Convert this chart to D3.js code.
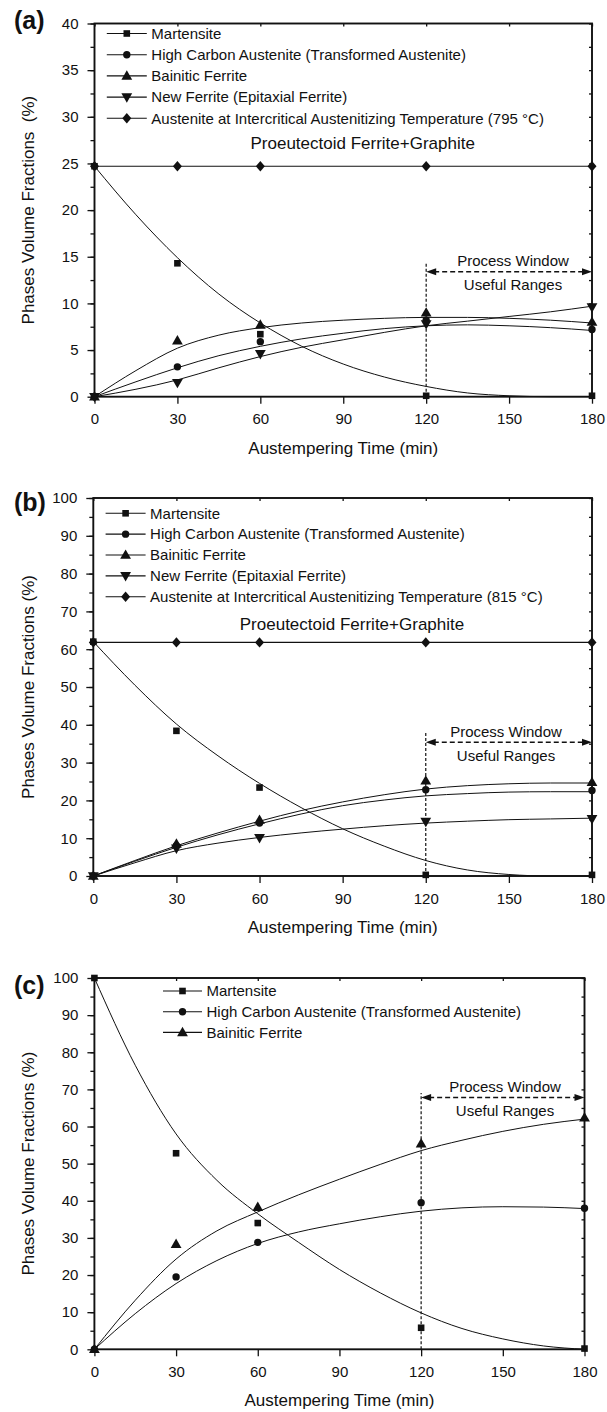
<!DOCTYPE html>
<html><head><meta charset="utf-8">
<script src="https://cdn.jsdelivr.net/npm/d3@7"></script>
<style>
body{margin:0;background:#fff}
svg text{font-family:"Liberation Sans",Arial,Helvetica,sans-serif;fill:#111}
</style>
</head><body>
<svg id="chart" width="607" height="1412"></svg>
<script>
// ---------- DATA ----------
const sampleTimes = [0, 30, 60, 120, 180];
const fitTimes = [0, 15, 30, 45, 60, 75, 90, 105, 120, 135, 150, 165, 180];
const xTicks = [0, 30, 60, 90, 120, 150, 180];

const legendA = ["Martensite", "High Carbon Austenite (Transformed Austenite)", "Bainitic Ferrite",
  "New Ferrite (Epitaxial Ferrite)", "Austenite at Intercritical Austenitizing Temperature (795 \u00B0C)"];
const legendB = ["Martensite", "High Carbon Austenite (Transformed Austenite)", "Bainitic Ferrite",
  "New Ferrite (Epitaxial Ferrite)", "Austenite at Intercritical Austenitizing Temperature (815 \u00B0C)"];
const legendC = ["Martensite", "High Carbon Austenite (Transformed Austenite)", "Bainitic Ferrite"];

// panel (a)
const aYTicks = [0, 5, 10, 15, 20, 25, 30, 35, 40];
const aMartensite = [24.7, 14.3, 6.7, 0.1, 0.1];
const aHighCarbon = [0, 3.2, 5.9, 8.2, 7.2];
const aBainitic = [0, 6.0, 7.7, 9.0, 8.0];
const aNewFerrite = [0, 1.5, 4.6, 7.8, 9.6];
const aAustenite = [24.7, 24.7, 24.7, 24.7, 24.7];
const aMartensiteFit = [24.7, 19.5, 14.9, 11.0, 7.9, 5.4, 3.5, 2.1, 1.1, 0.4, 0.1, 0, 0];
const aHighCarbonFit = [0, 1.6, 3.1, 4.4, 5.4, 6.2, 6.8, 7.3, 7.6, 7.7, 7.6, 7.4, 7.1];
const aBainiticFit = [0, 2.8, 5.2, 6.6, 7.4, 7.9, 8.2, 8.4, 8.5, 8.5, 8.4, 8.2, 7.9];
const aNewFerriteFit = [0, 0.8, 1.8, 3.1, 4.3, 5.3, 6.1, 6.9, 7.6, 8.1, 8.6, 9.1, 9.7];

// panel (b)
const bYTicks = [0, 10, 20, 30, 40, 50, 60, 70, 80, 90, 100];
const bMartensite = [62, 38.4, 23.4, 0.3, 0.3];
const bHighCarbon = [0, 8.0, 14.0, 22.8, 22.6];
const bBainitic = [0, 8.5, 14.8, 25.2, 24.8];
const bNewFerrite = [0, 7.3, 10.1, 14.4, 15.1];
const bAustenite = [61.8, 61.8, 61.8, 61.8, 61.8];
const bMartensiteFit = [62, 50.5, 40.2, 31.8, 24.5, 18.1, 12.5, 7.9, 4.1, 1.6, 0.4, 0, 0];
const bHighCarbonFit = [0, 3.9, 7.6, 10.9, 13.8, 16.4, 18.6, 20.1, 21.2, 21.8, 22.2, 22.3, 22.3];
const bBainiticFit = [0, 4.1, 8.0, 11.4, 14.5, 17.3, 19.6, 21.5, 23.0, 23.9, 24.4, 24.6, 24.6];
const bNewFerriteFit = [0, 3.5, 6.7, 8.7, 10.2, 11.4, 12.4, 13.3, 14.0, 14.5, 14.9, 15.1, 15.3];

// panel (c)
const cYTicks = [0, 10, 20, 30, 40, 50, 60, 70, 80, 90, 100];
const cMartensite = [100, 52.8, 34.0, 5.8, 0.2];
const cHighCarbon = [0, 19.5, 28.8, 39.5, 38.0];
const cBainitic = [0, 28.3, 38.3, 55.4, 62.4];
const cMartensiteFit = [100, 76.5, 58, 45.5, 36.5, 28.8, 21.5, 15.2, 9.8, 5.6, 2.8, 0.9, 0];
const cHighCarbonFit = [0, 9.6, 17.7, 23.9, 28.5, 31.6, 33.8, 35.7, 37.2, 38.1, 38.4, 38.3, 37.9];
const cBainiticFit = [0, 13.2, 24.3, 31.9, 37.0, 41.6, 45.8, 49.8, 53.5, 56.3, 58.7, 60.6, 62.0];

// ---------- DRAWING ----------
const svg = d3.select("#chart");

function markerPath(type) {
  switch (type) {
    case "square": return "M-3.3,-3.3H3.3V3.3H-3.3Z";
    case "circle": return d3.arc()({innerRadius: 0, outerRadius: 3.7, startAngle: 0, endAngle: 2 * Math.PI});
    case "up": return "M0,-5.6L5.4,3.8H-5.4Z";
    case "down": return "M0,5.6L5.4,-3.8H-5.4Z";
    case "diamond": return "M0,-5.2L4.5,0L0,5.2L-4.5,0Z";
  }
}

function drawPanel(cfg) {
  const g = svg.append("g");
  const x = d3.scaleLinear().domain([0, 180]).range([cfg.left, cfg.right]);
  const y = d3.scaleLinear().domain([0, cfg.yMax]).range([cfg.bottom, cfg.top]);
  const minor = d3.range(0, cfg.yMax + 0.001, cfg.minorStep);

  const styleAxis = sel => {
    sel.select(".domain").remove();
    sel.selectAll("line").attr("stroke", "#111").attr("stroke-width", 1.3);
    sel.selectAll("text").attr("font-size", 15).attr("font-family", null).attr("fill", "#111");
  };
  g.append("g").attr("transform", `translate(${cfg.left},0)`)
    .call(d3.axisLeft(y).tickValues(minor).tickSize(4).tickFormat("")).call(styleAxis);
  g.append("g").attr("transform", `translate(${cfg.left},0)`)
    .call(d3.axisLeft(y).tickValues(cfg.yTicks).tickSize(7).tickPadding(9).tickFormat(d3.format("d"))).call(styleAxis);
  g.append("g").attr("transform", `translate(0,${cfg.bottom})`)
    .call(d3.axisBottom(x).tickValues(xTicks).tickSize(7).tickPadding(10).tickFormat(d3.format("d"))).call(styleAxis);
  g.append("g").attr("transform", `translate(0,${cfg.top})`)
    .call(d3.axisTop(x).tickValues(xTicks).tickSize(-3).tickFormat("")).call(styleAxis);
  g.append("g").attr("transform", `translate(${cfg.right},0)`)
    .call(d3.axisRight(y).tickValues(minor).tickSize(-3).tickFormat("")).call(styleAxis);

  g.append("rect").attr("x", cfg.left).attr("y", cfg.top)
    .attr("width", cfg.right - cfg.left).attr("height", cfg.bottom - cfg.top)
    .attr("fill", "none").attr("stroke", "#111").attr("stroke-width", 1.9);

  g.append("text").attr("x", (cfg.left + cfg.right) / 2).attr("y", cfg.bottom + 57)
    .attr("text-anchor", "middle").attr("font-size", 17).text("Austempering Time (min)");
  g.append("text").attr("transform", `translate(34,${(cfg.top + cfg.bottom) / 2}) rotate(-90)`)
    .attr("text-anchor", "middle").attr("font-size", 17).attr("xml:space", "preserve")
    .text(cfg.yTitle);
  g.append("text").attr("x", 14).attr("y", cfg.panelLabelY).attr("font-size", 25)
    .attr("font-weight", "bold").text(cfg.panelLabel);

  // process window
  const px1 = x(120), px2 = x(180), ay = y(cfg.arrowLevel);
  g.append("line").attr("x1", px1).attr("x2", px1).attr("y1", y(0)).attr("y2", y(cfg.windowTop))
    .attr("stroke", "#111").attr("stroke-width", 1.2).attr("stroke-dasharray", "3,2");
  g.append("line").attr("x1", px1 + 8).attr("x2", px2 - 8).attr("y1", ay).attr("y2", ay)
    .attr("stroke", "#111").attr("stroke-width", 1.4).attr("stroke-dasharray", "5,3");
  g.append("path").attr("d", `M${px1},${ay}L${px1 + 10},${ay - 3.5}L${px1 + 10},${ay + 3.5}Z`).attr("fill", "#111");
  g.append("path").attr("d", `M${px2},${ay}L${px2 - 10},${ay - 3.5}L${px2 - 10},${ay + 3.5}Z`).attr("fill", "#111");
  g.append("text").attr("x", cfg.windowTextX).attr("y", ay - 5.6).attr("text-anchor", "middle")
    .attr("font-size", 15).text("Process Window");
  g.append("text").attr("x", cfg.windowTextX).attr("y", ay + 18.4).attr("text-anchor", "middle")
    .attr("font-size", 15).text("Useful Ranges");

  if (cfg.phaseLabel) {
    g.append("text").attr("x", cfg.phaseLabelX).attr("y", cfg.phaseLabelY).attr("text-anchor", "middle")
      .attr("font-size", 17).text(cfg.phaseLabel);
  }

  // fitted curves
  const fitLine = d3.line().x(d => x(d[0])).y(d => y(d[1])).curve(d3.curveMonotoneX);
  const straight = d3.line().x(d => x(d[0])).y(d => y(d[1]));
  cfg.series.forEach(s => {
    if (s.fit) {
      g.append("path").attr("d", fitLine(fitTimes.map((t, i) => [t, s.fit[i]])))
        .attr("fill", "none").attr("stroke", "#111").attr("stroke-width", 1);
    } else {
      g.append("path").attr("d", straight(sampleTimes.map((t, i) => [t, s.pts[i]])))
        .attr("fill", "none").attr("stroke", "#111").attr("stroke-width", 1.2);
    }
  });
  cfg.series.forEach(s => {
    g.append("g").selectAll("path").data(sampleTimes.map((t, i) => [t, s.pts[i]])).join("path")
      .attr("transform", d => `translate(${x(d[0])},${y(d[1])})`)
      .attr("d", markerPath(s.marker)).attr("fill", "#111");
  });

  // legend
  cfg.series.forEach((s, i) => {
    const ly = cfg.legendY + i * cfg.legendStep;
    g.append("line").attr("x1", cfg.legendX1).attr("x2", cfg.legendX2).attr("y1", ly).attr("y2", ly)
      .attr("stroke", "#111").attr("stroke-width", 1.1);
    g.append("path").attr("transform", `translate(${(cfg.legendX1 + cfg.legendX2) / 2},${ly})`)
      .attr("d", markerPath(s.marker)).attr("fill", "#111");
    g.append("text").attr("x", cfg.legendX2 + 4.5).attr("y", ly + 5.3).attr("font-size", 15).text(s.name);
  });
}

drawPanel({
  left: 94.5, right: 592, top: 23.5, bottom: 396.7, yMax: 40, yTicks: aYTicks, minorStep: 2.5,
  yTitle: "Phases Volume Fractions  (%)", panelLabel: "(a)", panelLabelY: 29,
  arrowLevel: 13.4, windowTop: 14.4, windowTextX: 513,
  phaseLabel: "Proeutectoid Ferrite+Graphite", phaseLabelX: 362.7, phaseLabelY: 149,
  legendX1: 106.8, legendX2: 146.8, legendY: 33.5, legendStep: 21.2,
  series: [
    {name: legendA[0], pts: aMartensite, fit: aMartensiteFit, marker: "square"},
    {name: legendA[1], pts: aHighCarbon, fit: aHighCarbonFit, marker: "circle"},
    {name: legendA[2], pts: aBainitic, fit: aBainiticFit, marker: "up"},
    {name: legendA[3], pts: aNewFerrite, fit: aNewFerriteFit, marker: "down"},
    {name: legendA[4], pts: aAustenite, fit: null, marker: "diamond"}
  ]
});

drawPanel({
  left: 93.3, right: 592, top: 498, bottom: 876, yMax: 100, yTicks: bYTicks, minorStep: 5,
  yTitle: "Phases Volume Fractions (%)", panelLabel: "(b)", panelLabelY: 511,
  arrowLevel: 35.4, windowTop: 38.3, windowTextX: 506,
  phaseLabel: "Proeutectoid Ferrite+Graphite", phaseLabelX: 352, phaseLabelY: 629.5,
  legendX1: 105.6, legendX2: 145.6, legendY: 513.3, legendStep: 20.85,
  series: [
    {name: legendB[0], pts: bMartensite, fit: bMartensiteFit, marker: "square"},
    {name: legendB[1], pts: bHighCarbon, fit: bHighCarbonFit, marker: "circle"},
    {name: legendB[2], pts: bBainitic, fit: bBainiticFit, marker: "up"},
    {name: legendB[3], pts: bNewFerrite, fit: bNewFerriteFit, marker: "down"},
    {name: legendB[4], pts: bAustenite, fit: null, marker: "diamond"}
  ]
});

drawPanel({
  left: 94.4, right: 584.5, top: 978, bottom: 1349.3, yMax: 100, yTicks: cYTicks, minorStep: 5,
  yTitle: "Phases Volume Fractions (%)", panelLabel: "(c)", panelLabelY: 994,
  arrowLevel: 67.8, windowTop: 69.0, windowTextX: 505,
  phaseLabel: null,
  legendX1: 163, legendX2: 202, legendY: 991, legendStep: 20.7,
  series: [
    {name: legendC[0], pts: cMartensite, fit: cMartensiteFit, marker: "square"},
    {name: legendC[1], pts: cHighCarbon, fit: cHighCarbonFit, marker: "circle"},
    {name: legendC[2], pts: cBainitic, fit: cBainiticFit, marker: "up"}
  ]
});
</script>
</body></html>
